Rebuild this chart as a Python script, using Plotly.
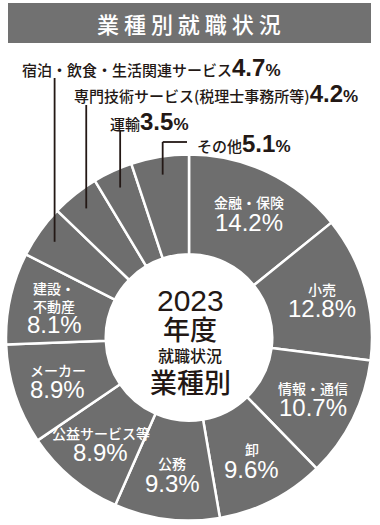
import math
import plotly.graph_objects as go

# ---- data ----
categories = ["金融・保険", "小売", "情報・通信", "卸", "公務", "公益サービス等",
              "メーカー", "建設・<br>不動産", "宿泊・飲食・生活関連サービス",
              "専門技術サービス(税理士事務所等)", "運輸", "その他"]
values = [14.2, 12.8, 10.7, 9.6, 9.3, 8.9, 8.9, 8.1, 4.7, 4.2, 3.5, 5.1]
value_labels = ["14.2", "12.8", "10.7", "9.6", "9.3", "8.9", "8.9", "8.1", "4.7", "4.2", "3.5", "5.1"]
inside = [True] * 8 + [False] * 4
title_text = "業 種 別 就 職 状 況"
center_lines = ["2023", "年度", "就職状況", "業種別"]

# ---- layout constants ----
W, H = 380, 525
CX, CY, R = 189.0, 337.5, 183.0
GRAY = "#6e6e6e"
DARK = "#231815"
JP = "Noto Sans CJK JP"
NUM = "Liberation Sans, Arial, sans-serif"


def px(x):
    return x / W


def py(y):
    return 1 - y / H


def ann(x, y, text, font, xanchor="center"):
    return dict(x=px(x), y=py(y), xref="paper", yref="paper", text=text,
                showarrow=False, xanchor=xanchor, yanchor="middle", font=font)


fig = go.Figure(go.Pie(
    labels=[c.replace("<br>", "") for c in categories],
    values=values,
    sort=False,
    direction="clockwise",
    rotation=0,
    hole=0.455,
    textinfo="none",
    hoverinfo="none",
    marker=dict(colors=[GRAY] * len(values), line=dict(color="white", width=2.5)),
    domain=dict(x=[px(CX - R), px(CX + R)], y=[py(CY + R), py(CY - R)]),
    showlegend=False,
))

annotations = []
shapes = []

# title bar
shapes.append(dict(type="rect", xref="paper", yref="paper",
                   x0=px(8), x1=px(371), y0=py(43), y1=py(3),
                   fillcolor="#717171", line=dict(width=0), layer="below"))
annotations.append(ann(189, 23, title_text, dict(family=JP, size=22, color="white", weight=500)))

total = sum(values)
cum = 0.0
mid_angles = []
for v in values:
    mid_angles.append(math.radians(360 * (cum + v / 2) / total))
    cum += v

# inside labels
LR = 138
for cat, lab, th, ins in zip(categories, value_labels, mid_angles, inside):
    if not ins:
        continue
    cx = CX + LR * math.sin(th)
    cy = CY - LR * math.cos(th)
    n = cat.count("<br>") + 1
    h = 16 * n + 22
    top = cy - h / 2
    annotations.append(ann(cx, top + 8 * n, cat, dict(family=JP, size=14, color="white", weight=500)))
    annotations.append(ann(cx, top + 16 * n + 12, lab + "%", dict(family=NUM, size=24, color="white")))

# outside labels with leader lines
out_label_pos = [(20, 68), (72, 94), (108, 121), (195, 143)]
line_tops = [78, 105, 130, 142]
LE = 165
out_idx = [i for i, ins in enumerate(inside) if not ins]
for k, i in enumerate(out_idx):
    lx, ly = out_label_pos[k]
    txt = (categories[i] + "<span style='font-family:Liberation Sans;font-weight:bold;font-size:24px'>"
           + value_labels[i] + "</span><span style='font-family:Liberation Sans;font-weight:bold;font-size:17px'>%</span>")
    annotations.append(ann(lx, ly, txt, dict(family=JP, size=15, color=DARK, weight=500), xanchor="left"))
    ex = CX + LE * math.sin(mid_angles[i])
    ey = CY - LE * math.cos(mid_angles[i])
    shapes.append(dict(type="line", xref="paper", yref="paper",
                       x0=px(ex), x1=px(ex), y0=py(ey), y1=py(line_tops[k]),
                       line=dict(color=DARK, width=1.8)))
    if k == 3:
        shapes.append(dict(type="line", xref="paper", yref="paper",
                           x0=px(ex), x1=px(lx - 8), y0=py(line_tops[k]), y1=py(line_tops[k]),
                           line=dict(color=DARK, width=1.8)))

# center text
center_specs = [(300, NUM, 30, 400), (328, JP, 27, 500), (355, JP, 16, 500), (381, JP, 27, 500)]
for t, (yy, fam, sz, wt) in zip(center_lines, center_specs):
    annotations.append(ann(190, yy, t, dict(family=fam, size=sz, color=DARK, weight=wt)))

fig.update_layout(width=W, height=H, autosize=False,
                  margin=dict(l=0, r=0, t=0, b=0),
                  paper_bgcolor="white", plot_bgcolor="white",
                  annotations=annotations, shapes=shapes)

fig.write_html("out.html", config={"displayModeBar": False},
               post_script="document.body.style.margin='0px';document.body.style.overflow='hidden';")
